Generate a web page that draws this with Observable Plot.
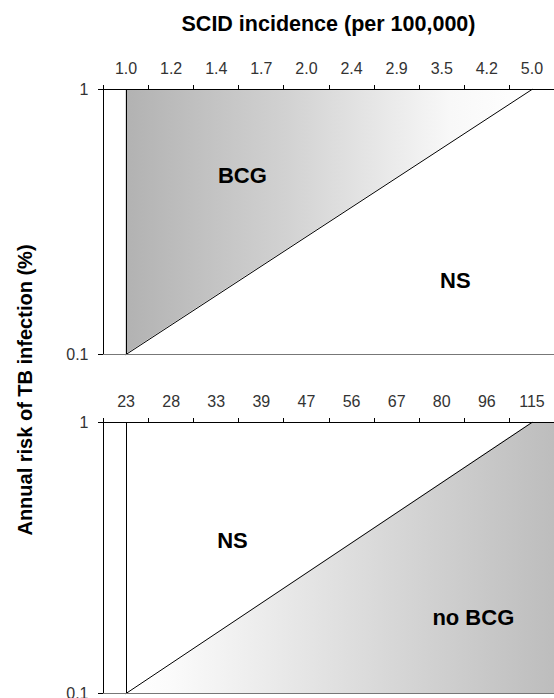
<!DOCTYPE html>
<html><head><meta charset="utf-8">
<script src="https://cdn.jsdelivr.net/npm/d3@7"></script>
<script src="https://cdn.jsdelivr.net/npm/@observablehq/plot@0.6"></script>
<style>
body{margin:0;background:#fff;}
#wrap{position:relative;width:554px;height:698px;overflow:hidden;font-family:"Liberation Sans",Arial,sans-serif;color:#000;}
#title{position:absolute;left:103px;width:451px;top:14px;text-align:center;font-weight:bold;font-size:21.5px;line-height:1;white-space:nowrap;z-index:2;}
#ylab{position:absolute;left:25px;top:390px;width:400px;text-align:center;font-weight:bold;font-size:20px;line-height:1;white-space:nowrap;transform:translate(-50%,-50%) rotate(-90deg);z-index:2;}
.panel{position:absolute;left:0;z-index:1;}
</style></head><body>
<div id="wrap">
<div id="title">SCID incidence (per 100,000)</div>
<div id="ylab">Annual risk of TB infection (%)</div>
</div>
<script>
// Tick labels of the two horizontal axes (one per category)
const scidLabels = ["1.0","1.2","1.4","1.7","2.0","2.4","2.9","3.5","4.2","5.0"];
const lowerLabels = ["23","28","33","39","47","56","67","80","96","115"];
// Annual risk of TB infection (%) ticks
const ariTicks = [0.1, 1];
const ariFormat = d => (d === 1 ? "1" : "0.1");
// Threshold lines (category index, annual risk)
const topThreshold = [{cat: 0, ari: 0.1}, {cat: 9, ari: 1}];
const bottomThreshold = [{cat: 0, ari: 0.1}, {cat: 9, ari: 1}];
// Region labels
const topRegions = [
  {label: "BCG", cat: 2.58, ari: 0.47},
  {label: "NS", cat: 7.3, ari: 0.19}
];
const bottomRegions = [
  {label: "NS", cat: 2.36, ari: 0.367},
  {label: "no BCG", cat: 7.7, ari: 0.19}
];

const categories = scidLabels.map((_, i) => i);
const xDomain = [-0.5, categories.length - 0.5];
const boundaries = [xDomain[0], ...categories.map(i => i + 0.5)];

function gradientDefs(id, stops) {
  return () => {
    const defs = d3.create("svg:defs");
    const g = defs.append("linearGradient").attr("id", id)
      .attr("x1", "0").attr("x2", "1").attr("y1", "0").attr("y2", "0");
    stops.forEach(([o, c]) => g.append("stop").attr("offset", o).attr("stop-color", c));
    return defs.node();
  };
}

function panel({labels, threshold, areaMark, gradId, stops, regions, marginBottom}) {
  const crisp = {shapeRendering: "crispEdges", strokeWidth: 1};
  return Plot.plot({
    width: 554,
    height: 330,
    marginLeft: 103,
    marginRight: 0,
    marginTop: 54,
    marginBottom,
    x: {domain: xDomain, label: null},
    y: {type: "log", domain: [0.1, 1], label: null},
    style: {fontFamily: '"Liberation Sans", Arial, sans-serif', fontSize: "16px", background: "transparent", overflow: "visible", color: "#000"},
    marks: [
      gradientDefs(gradId, stops),
      areaMark,
      Plot.ruleX([0], {stroke: "#000", ...crisp}),
      Plot.line(threshold, {x: "cat", y: "ari", stroke: "#000", strokeWidth: 1}),
      Plot.ruleY([0.1], {stroke: "#777", ...crisp}),
      Plot.ruleY([1], {stroke: "#000", ...crisp}),
      Plot.ruleX([xDomain[0]], {stroke: "#000", ...crisp}),
      Plot.axisY(ariTicks, {anchor: "left", label: null, tickSize: 5, tickPadding: 10, tickFormat: ariFormat, fontSize: 16, fill: "#333", shapeRendering: "crispEdges"}),
      Plot.axisX(boundaries, {anchor: "top", label: null, tickSize: 5, tickFormat: () => "", shapeRendering: "crispEdges"}),
      Plot.text(categories, {x: d => d, frameAnchor: "top", dy: -27, text: d => labels[d], fontSize: 16, fill: "#333"}),
      Plot.text(regions, {x: "cat", y: "ari", text: "label", fontSize: 22, fontWeight: "bold", fill: "#000"})
    ]
  });
}

const top1 = panel({
  labels: scidLabels,
  threshold: topThreshold,
  areaMark: Plot.areaY(topThreshold, {x: "cat", y1: "ari", y2: d => 1, fill: "url(#gradTop)"}),
  gradId: "gradTop",
  stops: [[0, "#b2b2b2"], [0.4, "#d2d2d2"], [0.8, "#f8f8f8"], [1, "#ffffff"]],
  regions: topRegions,
  marginBottom: 11
});
const bottom1 = panel({
  labels: lowerLabels,
  threshold: bottomThreshold,
  areaMark: Plot.areaY([...bottomThreshold, {cat: xDomain[1], ari: 1}], {x: "cat", y1: d => 0.1, y2: "ari", fill: "url(#gradBottom)"}),
  gradId: "gradBottom",
  stops: [[0, "#ffffff"], [0.1, "#fbfbfb"], [1, "#bdbdbd"]],
  regions: bottomRegions,
  marginBottom: 5
});
top1.classList.add("panel");
top1.style.top = "35px";
bottom1.classList.add("panel");
bottom1.style.top = "368px";
const wrap = document.getElementById("wrap");
wrap.appendChild(top1);
wrap.appendChild(bottom1);
</script>
</body></html>
